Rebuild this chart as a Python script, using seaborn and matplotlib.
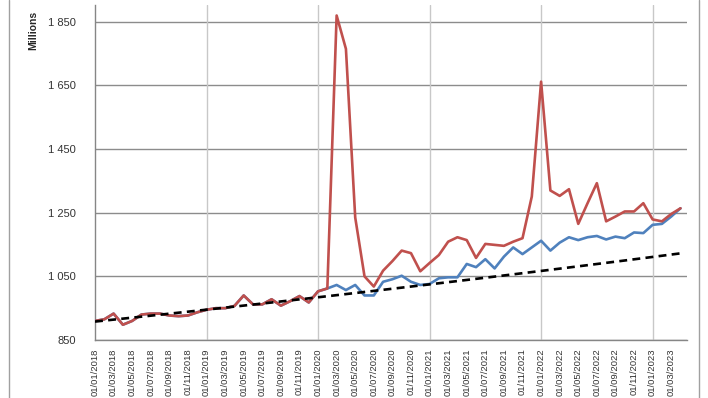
import numpy as np
import pandas as pd
import seaborn as sns
import matplotlib.pyplot as plt
from matplotlib.lines import Line2D

# monthly values, Jan 2018 .. Apr 2023 (millions)
red_vals = [910, 915, 933, 898, 910, 930, 933, 933, 927, 925, 927, 937,
            945, 950, 950, 957, 990, 962, 962, 978, 958, 972, 988, 968,
            1003, 1012, 1870, 1765, 1235, 1050, 1018, 1068, 1098, 1131, 1123, 1066,
            1092, 1117, 1159, 1173, 1164, 1108, 1152, 1149, 1146, 1159, 1170, 1301,
            1662, 1320, 1303, 1324, 1215, 1280, 1343, 1223, 1238, 1254, 1254, 1280,
            1229, 1223, 1246, 1264]
blue_vals = [910, 915, 933, 898, 910, 930, 933, 933, 927, 925, 927, 937,
             945, 950, 950, 957, 990, 962, 962, 978, 958, 972, 988, 968,
             1003, 1012, 1023, 1007, 1023, 990, 990, 1033, 1041, 1052, 1033, 1023,
             1026, 1044, 1047, 1047, 1089, 1079, 1104, 1075, 1112, 1141, 1120, 1141,
             1162, 1131, 1156, 1173, 1164, 1173, 1177, 1166, 1175, 1170, 1188, 1186,
             1212, 1215, 1238, 1264]
dates = pd.date_range("2018-01-01", periods=len(red_vals), freq="MS")
tick_labels = [d.strftime("%d/%m/%Y") for d in dates[::2]]

df = pd.DataFrame({"m": np.arange(len(dates)), "red": red_vals, "blue": blue_vals})

# exponential trend fitted on the pre-2020 months
pre = df[df["m"] < 24]
k, b = np.polyfit(pre["m"], np.log(pre["red"]), 1)
df["trend"] = np.exp(b + k * df["m"])

sns.set_style("white")
plt.rcParams["font.family"] = ["Liberation Sans", "DejaVu Sans"]

fig = plt.figure(figsize=(7.08, 3.98), dpi=100)
ax = fig.add_axes([95 / 708, 1 - 340 / 398, 592 / 708, 335 / 398])

sns.lineplot(data=df, x="m", y="blue", color="#4f81bd", linewidth=1.9, ax=ax, zorder=3)
sns.lineplot(data=df, x="m", y="red", color="#c0504d", linewidth=1.9, ax=ax, zorder=4)
sns.lineplot(data=df, x="m", y="trend", color="black", linewidth=1.9,
             dashes=(3, 2), ax=ax, zorder=5)

ax.set_xlim(0, 63.7)
ax.set_ylim(850, 1903)
ax.set_yticks(range(850, 1851, 200))
ax.set_yticklabels([f"{v:,}".replace(",", " ") for v in range(850, 1851, 200)],
                   fontsize=8, color="#333333")
ax.set_xticks(df["m"][::2])
ax.set_xticklabels(tick_labels, rotation=90, fontsize=6.8, color="#333333")
ax.tick_params(axis="y", length=0, pad=14)
ax.tick_params(axis="x", length=3, width=0.8, color="#868686", direction="out", pad=3)
ax.set_xlabel("")
ax.set_ylabel("")

ax.grid(axis="y", color="#8c8c8c", linewidth=1.0)
for yr in range(12, 64, 12):
    ax.axvline(yr, color="#c8c8c8", linewidth=1.0, zorder=1)

for s in ["top", "right"]:
    ax.spines[s].set_visible(False)
for s in ["left", "bottom"]:
    ax.spines[s].set_color("#868686")
    ax.spines[s].set_linewidth(1.0)

fig.text(33 / 708, 1 - 30 / 398, "Millions", rotation=90, fontsize=7.5,
         fontweight="bold", ha="center", va="center")

# chart border lines
fig.add_artist(Line2D([9 / 708, 9 / 708], [0, 1], color="#a0a0a0", linewidth=1.0))
fig.add_artist(Line2D([699 / 708, 699 / 708], [0, 1], color="#a0a0a0", linewidth=1.0))

fig.savefig("out.png", dpi=100)
